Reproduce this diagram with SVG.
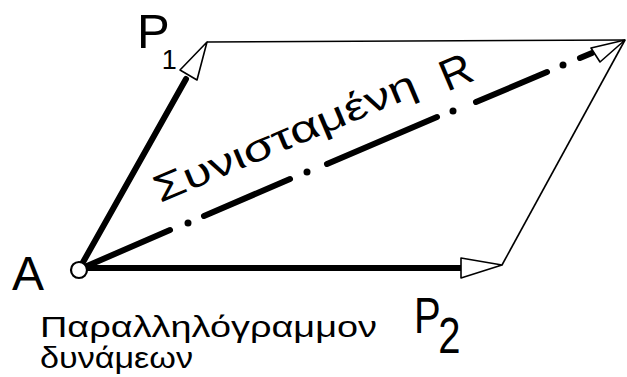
<svg xmlns="http://www.w3.org/2000/svg" width="627" height="377" viewBox="0 0 627 377">
<style>
.lbl{font-family:"Liberation Sans",Arial,sans-serif;fill:#000}
.thin{stroke:#000;stroke-width:1.6;fill:none}
.thick{stroke:#000;stroke-width:6;fill:none;stroke-linecap:round}
.dash{stroke:#000;stroke-width:6;fill:none;stroke-linecap:round}
.head{fill:#fff;stroke:#000;stroke-width:1.6;stroke-linejoin:round}
</style>
<rect width="627" height="377" fill="#fff"/>
<g id="connectors">
  <line class="thin" x1="207" y1="42" x2="625" y2="40"/>
  <line class="thin" x1="625" y1="40" x2="502" y2="265"/>
  <line class="thick" x1="82" y1="264" x2="186" y2="79"/>
  <polygon class="head" points="207,42 180,70 197,80"/>
  <line class="thick" x1="86" y1="268" x2="461" y2="268"/>
  <polygon class="head" points="502,265 461,258 461,278"/>
  <g id="resultant">
    <line class="dash" x1="87" y1="266" x2="170" y2="230"/>
    <circle cx="188" cy="223" r="3.5"/>
    <line class="dash" x1="204" y1="216" x2="290" y2="179"/>
    <circle cx="307" cy="172" r="3.5"/>
    <line class="dash" x1="327" y1="164" x2="437" y2="117"/>
    <circle cx="453" cy="111" r="3.5"/>
    <line class="dash" x1="476" y1="102" x2="547" y2="72"/>
    <circle cx="563" cy="65" r="3.5"/>
    <line class="dash" x1="580" y1="58" x2="592" y2="53"/>
    <polygon class="head" points="625,40 591,48 600,62"/>
  </g>
</g>
<g id="pointA">
  <circle cx="79" cy="270" r="8" fill="#fff" stroke="#000" stroke-width="2.2"/>
  <text class="lbl" x="12" y="290" font-size="48">A</text>
</g>
<g id="labelP1">
  <text class="lbl" x="137" y="48" font-size="49">P<tspan font-size="27" dx="-8" dy="21">1</tspan></text>
</g>
<g id="labelP2">
  <text class="lbl" font-size="50" transform="translate(414 333) scale(0.8 1)">P<tspan dx="-3" dy="20">2</tspan></text>
</g>
<g id="labelR">
  <text class="lbl" font-size="38" x="160" y="203" transform="rotate(-22.8 160 203)" textLength="282" lengthAdjust="spacingAndGlyphs">Συνισταμένη</text>
  <text class="lbl" font-size="44" x="447" y="92" transform="rotate(-22.8 447 92)">R</text>
</g>
<g id="caption">
  <text class="lbl" x="40" y="337" font-size="30" textLength="337" lengthAdjust="spacingAndGlyphs">Παραλληλόγραμμον</text>
  <text class="lbl" x="40" y="368" font-size="30" textLength="153" lengthAdjust="spacingAndGlyphs">δυνάμεων</text>
</g>
</svg>
